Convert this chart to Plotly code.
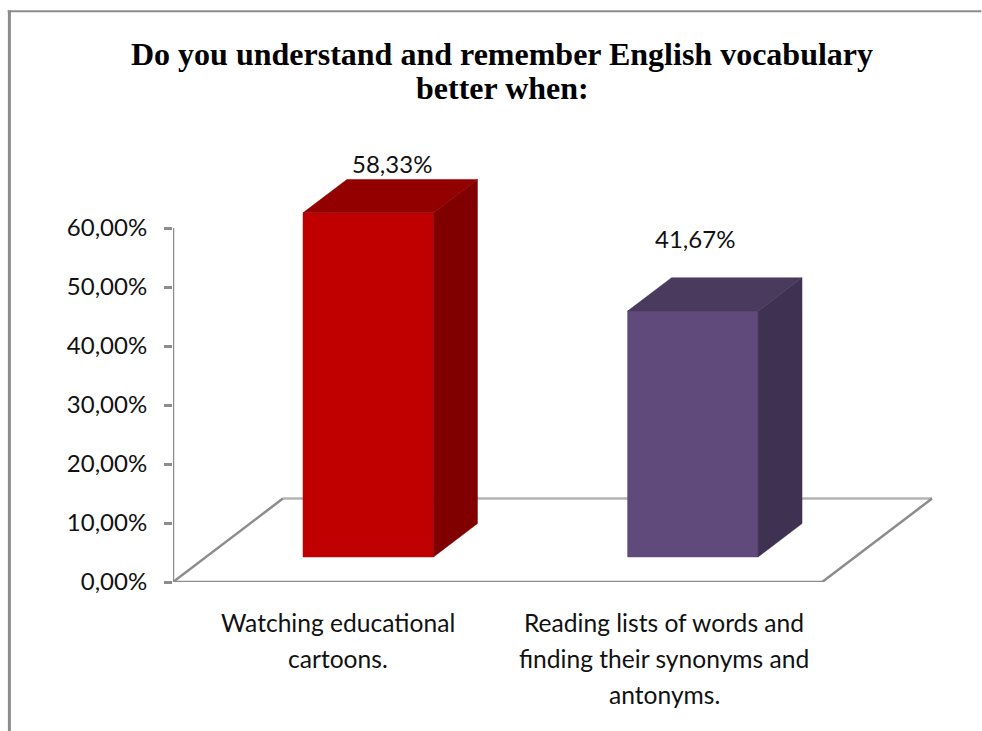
import plotly.graph_objects as go

# Survey results
categories = [
    ["Watching educational", "cartoons."],
    ["Reading lists of words and", "finding their synonyms and", "antonyms."],
]
shares = [58.33, 41.67]
y_ticks = [0, 10, 20, 30, 40, 50, 60]
y_tick_labels = ["0,00%", "10,00%", "20,00%", "30,00%", "40,00%", "50,00%", "60,00%"]
title_lines = ["Do you understand and remember English vocabulary", "better when:"]

front_colors = ["#C00000", "#604A7B"]
side_colors = ["#800000", "#3F3151"]
top_colors = ["#930000", "#4A3A5E"]
GREY = "#8C8C8C"
GREY_LIGHT = "#B4B4B4"

# Oblique projection of the floor: one unit of depth moves a point along both axes
DEPTH_X = 0.3385
DEPTH_Y = 14.14
BAR_WIDTH = 0.402
DEPTH_FRONT = 0.3
DEPTH_BACK = 0.7
N = len(categories)


def project(x, y, depth):
    return x + depth * DEPTH_X, y + depth * DEPTH_Y


def polygon(points, color):
    xs, ys = zip(*[project(*p) for p in points])
    return go.Scatter(
        x=list(xs) + [xs[0]], y=list(ys) + [ys[0]], mode="lines", fill="toself",
        fillcolor=color, line=dict(color=color, width=0.5),
        hoverinfo="skip", showlegend=False,
    )


def line(points, color, width=2.5):
    xs, ys = zip(*[project(*p) for p in points])
    return go.Scatter(
        x=list(xs), y=list(ys), mode="lines", line=dict(color=color, width=width),
        hoverinfo="skip", showlegend=False,
    )


fig = go.Figure()

# Floor: back edge is lighter than the other three
fig.add_trace(line([(0, 0, 1), (N, 0, 1)], GREY_LIGHT))
fig.add_trace(line([(0, 0, 0), (0, 0, 1)], GREY))
fig.add_trace(line([(N, 0, 1), (N, 0, 0), (0, 0, 0)], GREY))

# Value axis line stops at the last tick
fig.add_trace(line([(0, 0, 0), (0, y_ticks[-1], 0)], GREY))

for i, value in enumerate(shares):
    x0 = i + 0.5 - BAR_WIDTH / 2
    x1 = i + 0.5 + BAR_WIDTH / 2
    fig.add_trace(polygon(
        [(x0, 0, DEPTH_FRONT), (x1, 0, DEPTH_FRONT), (x1, value, DEPTH_FRONT), (x0, value, DEPTH_FRONT)],
        front_colors[i],
    ))
    fig.add_trace(polygon(
        [(x1, 0, DEPTH_FRONT), (x1, 0, DEPTH_BACK), (x1, value, DEPTH_BACK), (x1, value, DEPTH_FRONT)],
        side_colors[i],
    ))
    fig.add_trace(polygon(
        [(x0, value, DEPTH_FRONT), (x1, value, DEPTH_FRONT), (x1, value, DEPTH_BACK), (x0, value, DEPTH_BACK)],
        top_colors[i],
    ))

LABEL_FONT = dict(family="Lato, Carlito, Calibri, sans-serif", size=24, color="#111111")
CAPTION_FONT = dict(LABEL_FONT, size=24.6)
annotations = []

# Value labels, each placed by hand above its column
label_lift = [12.6, 16.6]
label_shift = [0.176, 0.108]
for i, value in enumerate(shares):
    annotations.append(dict(
        x=i + 0.5 + label_shift[i], y=value + label_lift[i],
        text=f"{value:.2f}".replace(".", ",") + "%",
        showarrow=False, xanchor="center", yanchor="middle", font=LABEL_FONT,
    ))

# Category captions with the wide line pitch of the original layout
caption_shift = [0.008, 0.014]
for i, lines in enumerate(categories):
    for j, text in enumerate(lines):
        annotations.append(dict(
            x=i + 0.5 + caption_shift[i], y=0, text=text, showarrow=False,
            xanchor="center", yanchor="middle",
            yshift=-(40.5 + j * 36), font=CAPTION_FONT,
        ))

plot_w = 982 - 172.5 - 29.5
plot_h = 731 - 109.7 - 149.3


def fx(px):
    return (px - 172.5) / plot_w


def fy(py):
    return (581.7 - py) / plot_h


# Two-line heading set with a tight leading
for text, py in zip(title_lines, [54, 88]):
    annotations.append(dict(
        xref="paper", yref="paper", x=fx(502), y=fy(py), text=f"<b>{text}</b>",
        showarrow=False, xanchor="center", yanchor="middle",
        font=dict(family="Liberation Serif, Times New Roman, serif", size=32, color="black"),
    ))

fig.update_layout(
    width=982, height=731, autosize=False,
    margin=dict(l=172.5, r=29.5, t=109.7, b=149.3),
    paper_bgcolor="white", plot_bgcolor="white",
    xaxis=dict(range=[0, 2.4], visible=False, fixedrange=True),
    yaxis=dict(
        range=[0, 80], tickmode="array", tickvals=y_ticks, ticktext=y_tick_labels,
        ticks="outside", ticklen=8, tickwidth=2.5, tickcolor=GREY, ticklabelstandoff=12,
        showgrid=False, zeroline=False, showline=False, tickfont=LABEL_FONT, fixedrange=True,
    ),
    annotations=annotations,
    # Outer frame: only the top and left sides are visible
    shapes=[
        dict(type="line", xref="paper", yref="paper", x0=fx(7), x1=fx(982), y0=fy(11), y1=fy(11),
             line=dict(color=GREY, width=2)),
        dict(type="line", xref="paper", yref="paper", x0=fx(8.7), x1=fx(8.7), y0=fy(10), y1=fy(731),
             line=dict(color=GREY, width=3)),
    ],
)

fig.write_html("out.html")
